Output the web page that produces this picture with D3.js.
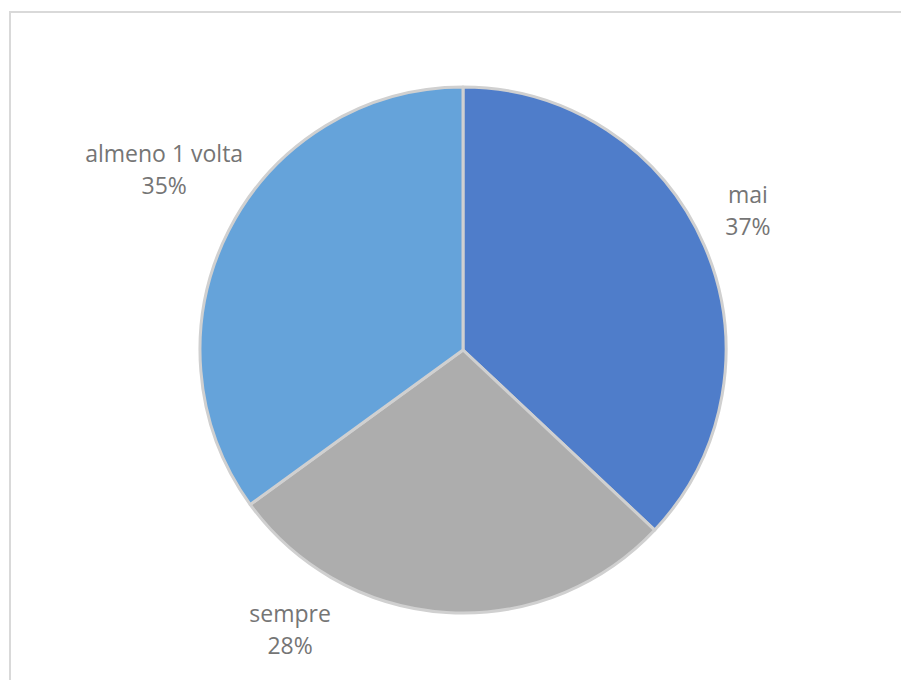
<!DOCTYPE html>
<html>
<head>
<meta charset="utf-8">
<script src="https://cdn.jsdelivr.net/npm/d3@7"></script>
<style>
  html, body { margin: 0; padding: 0; background: #ffffff; }
  svg { display: block; }
</style>
</head>
<body>
<svg id="chart" width="901" height="680"></svg>
<script>
// Survey answers, share of respondents (%)
const categories = ["mai", "sempre", "almeno 1 volta"];
const values = [37, 28, 35];
const colors = ["#4F7DCA", "#ADADAD", "#65A3DA"];

// Label placement around the pie: angle (deg, clockwise from top) and distance from centre
const labelPlacement = [
  { angle: 64.0, dist: 317 },
  { angle: 211.7, dist: 329 },
  { angle: 301.1, dist: 349 }
];

const svg = d3.select("#chart");

// Chart area frame
svg.append("rect")
  .attr("x", 10).attr("y", 12)
  .attr("width", 900).attr("height", 680)
  .attr("fill", "#ffffff")
  .attr("stroke", "#d9d9d9")
  .attr("stroke-width", 2);

const cx = 463, cy = 350, radius = 263;

const pie = d3.pie().sort(null).value(d => d.value);
const arc = d3.arc().innerRadius(0).outerRadius(radius);

const data = categories.map((c, i) => ({ name: c, value: values[i], color: colors[i], place: labelPlacement[i] }));
const arcs = pie(data);

const g = svg.append("g").attr("transform", `translate(${cx},${cy})`);

g.selectAll("path.slice")
  .data(arcs)
  .join("path")
  .attr("class", "slice")
  .attr("d", arc)
  .attr("fill", d => d.data.color)
  .attr("stroke", "#d0d0d0")
  .attr("stroke-width", 3)
  .attr("stroke-linejoin", "round");

const fontSize = 23;
const total = d3.sum(values);
const labels = g.selectAll("text.label")
  .data(arcs)
  .join("text")
  .attr("class", "label")
  .attr("text-anchor", "middle")
  .attr("font-family", "'Open Sans', 'Noto Sans', sans-serif")
  .attr("font-size", fontSize)
  .attr("fill", "#757575")
  .attr("transform", d => {
    const a = d.data.place.angle * Math.PI / 180;
    const r = d.data.place.dist;
    return `translate(${r * Math.sin(a)},${-r * Math.cos(a)})`;
  });

labels.append("tspan")
  .attr("x", 0).attr("y", -16 + 0.36 * fontSize)
  .text(d => d.data.name);
labels.append("tspan")
  .attr("x", 0).attr("y", 16 + 0.36 * fontSize)
  .text(d => Math.round(d.data.value / total * 100) + "%");
</script>
</body>
</html>
